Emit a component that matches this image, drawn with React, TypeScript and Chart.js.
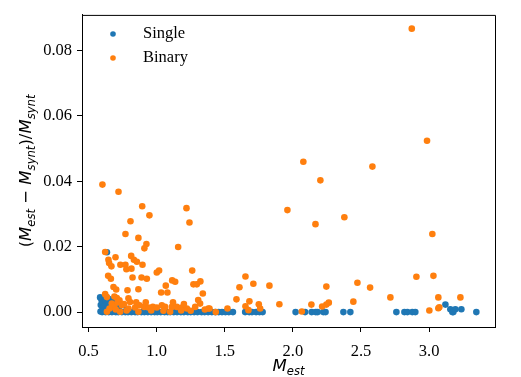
import React, { useEffect, useRef } from "react";
import { Chart, registerables } from "chart.js";

Chart.register(...registerables);

// ---- Data ----
const singleMass = [
  0.585, 0.595, 0.600, 0.590, 0.605, 0.612, 0.588, 0.620, 0.628, 0.635, 0.615, 0.642, 0.650, 0.660, 0.668, 0.655, 0.675, 0.690, 0.635, 0.600, 0.625,
  0.720, 0.780, 0.950, 1.120,
  0.600, 0.625, 0.648, 0.672, 0.700, 0.718, 0.745, 0.770, 0.790, 0.815, 0.842, 0.860, 0.888, 0.910, 0.935, 0.960, 0.985, 1.005, 1.030, 1.058,
  1.080, 1.100, 1.125, 1.150, 1.178, 1.200, 1.228, 1.250, 1.275, 1.300, 1.330, 1.352, 1.378, 1.405, 1.430, 1.455, 1.480, 1.505, 1.530, 1.560,
  1.650, 1.680, 1.700, 1.730, 1.755, 1.778,
  2.020, 2.090, 2.138, 2.168, 2.182, 2.224, 2.240, 2.371, 2.422, 2.760, 2.819, 2.841, 2.877, 2.899,
  3.120, 3.156, 3.171, 3.178, 3.193, 3.237, 3.347,
];
const singleDelta = [
  0.0045, 0.0038, 0.0030, 0.0022, 0.0015, 0.0008, 0.0002, 0.0042, 0.0033, 0.0025, 0.0018, 0.0012, 0.0040, 0.0028, 0.0020, 0.0006, 0.0035, 0.0010, 0.0183, 0.0005, 0.0048,
  0.0012, 0.0008, 0.0006, 0.0009,
  0, 0, 0, 0, 0, 0, 0, 0, 0, 0, 0, 0, 0, 0, 0, 0, 0, 0, 0, 0,
  0, 0, 0, 0, 0, 0, 0, 0, 0, 0, 0, 0, 0, 0, 0, 0, 0, 0, 0, 0,
  0, 0, 0, 0, 0, 0,
  0, 0, 0, 0, 0, 0, 0, 0, 0, 0, 0, 0, 0, 0,
  0.0023, 0.0009, 0, 0, 0.0009, 0.0009, 0,
];

const binaryMass = [
  2.873, 2.985, 2.077, 2.584, 2.202, 1.960, 2.378, 2.166, 3.024, 2.907, 3.032, 2.246, 2.474, 2.567, 2.716, 3.068, 3.230, 2.444, 2.264, 2.246,
  2.215, 2.136, 2.066, 1.901, 3.002, 3.068, 3.075,
  1.321, 1.339, 1.354, 1.388, 1.434, 1.520, 1.652, 1.710, 1.608, 1.828, 1.586, 1.681, 1.652, 1.674, 1.750, 1.760,
  0.602, 0.720, 0.894, 0.947, 0.808, 1.219, 1.241, 0.771, 0.866, 0.925, 0.910, 1.158, 0.622, 0.646, 0.698, 0.813, 0.833, 0.855, 0.896, 0.651,
  0.668, 0.734, 0.771, 0.778, 0.815, 1.001, 1.018, 1.261, 0.644, 0.664, 0.823, 0.889, 0.928, 1.114, 1.136, 0.683, 0.703, 0.786, 0.866, 1.067,
  1.033, 1.079, 1.270, 1.295, 1.305,
  0.622, 0.635, 0.708, 0.727, 0.671, 0.688, 0.654, 0.745, 0.793, 0.805, 0.793, 0.842, 0.874, 0.908, 0.940, 0.972, 1.001, 1.038, 1.062, 1.112,
  1.148, 1.185, 1.222, 1.283, 1.319, 1.380, 0.635, 0.732, 0.866, 1.099,
  0.690, 0.715, 0.760, 0.850, 0.920, 1.120, 1.200, 0.700, 0.780, 0.960, 1.050, 1.180, 1.250,
];
const binaryDelta = [
  0.0867, 0.0524, 0.0460, 0.0445, 0.0403, 0.0312, 0.0290, 0.0269, 0.0239, 0.0108, 0.0111, 0.0078, 0.0090, 0.0075, 0.0045, 0.0045, 0.0045, 0.0032, 0.0029, 0.0023,
  0.0017, 0.0023, 0.0002, 0.0024, 0.0005, 0.0012, 0.0015,
  0.0094, 0.0057, 0.0008, 0.0011, 0.0000, 0.0011, 0.0109, 0.0087, 0.0076, 0.0081, 0.0039, 0.0033, 0.0018, 0.0006, 0.0024, 0.0011,
  0.0390, 0.0368, 0.0324, 0.0296, 0.0278, 0.0318, 0.0274, 0.0239, 0.0227, 0.0208, 0.0195, 0.0199, 0.0184, 0.0160, 0.0168, 0.0172, 0.0160, 0.0154, 0.0145, 0.0150,
  0.0140, 0.0145, 0.0145, 0.0131, 0.0133, 0.0121, 0.0127, 0.0127, 0.0111, 0.0102, 0.0106, 0.0106, 0.0102, 0.0097, 0.0093, 0.0077, 0.0069, 0.0067, 0.0070, 0.0081,
  0.0060, 0.0060, 0.0085, 0.0085, 0.0037,
  0.0055, 0.0046, 0.0043, 0.0036, 0.0026, 0.0016, 0.0011, 0.0021, 0.0042, 0.0031, 0.0011, 0.0014, 0.0021, 0.0016, 0.0014, 0.0016, 0.0014, 0.0021, 0.0016, 0.0016,
  0.0016, 0.0014, 0.0011, 0.0016, 0.0026, 0.0011, 0.0001, 0.0001, 0.0001, 0.0001,
  0.0048, 0.0030, 0.0025, 0.0030, 0.0030, 0.0030, 0.0025, 0.0008, 0.0005, 0.0005, 0.0004, 0.0005, 0.0004,
];

const xTicks = [0.5, 1.0, 1.5, 2.0, 2.5, 3.0];
const yTicks = [0.0, 0.02, 0.04, 0.06, 0.08];
const seriesLabels = ["Single", "Binary"];
const seriesColors = ["#1f77b4", "#ff7f0e"];

const FONT = "'Liberation Serif', 'Times New Roman', serif";
const MATH = "'DejaVu Sans', sans-serif";
const FS = 16.5;
const MFS = 16.5;
const SUB = 11.6;

type Seg = [string, "n" | "i" | "s"];

function segFont(kind: string) {
  if (kind === "i") return `italic ${MFS}px ${MATH}`;
  if (kind === "s") return `italic ${SUB}px ${MATH}`;
  return `${MFS}px ${MATH}`;
}

function drawRich(ctx: CanvasRenderingContext2D, segs: Seg[], cx: number, baseY: number) {
  let total = 0;
  const widths = segs.map(([t, k]) => {
    ctx.font = segFont(k);
    const w = ctx.measureText(t).width;
    total += w;
    return w;
  });
  let x = cx - total / 2;
  ctx.textAlign = "left";
  ctx.textBaseline = "alphabetic";
  ctx.fillStyle = "#000";
  segs.forEach(([t, k], i) => {
    ctx.font = segFont(k);
    ctx.fillText(t, x, k === "s" ? baseY + 3.6 : baseY);
    x += widths[i];
  });
}

const decorPlugin = {
  id: "decor",
  afterDraw(chart: any) {
    const { ctx, chartArea } = chart;
    ctx.save();
    // top and right frame
    ctx.strokeStyle = "#000";
    ctx.lineWidth = 1;
    ctx.beginPath();
    ctx.moveTo(chartArea.left, chartArea.top + 0.5);
    ctx.lineTo(chartArea.right + 0.5, chartArea.top + 0.5);
    ctx.lineTo(chartArea.right + 0.5, chartArea.bottom);
    ctx.stroke();

    // legend
    seriesLabels.forEach((lab, i) => {
      const y = 34 + i * 24;
      ctx.fillStyle = seriesColors[i];
      ctx.beginPath();
      ctx.arc(113, y, 2.8, 0, Math.PI * 2);
      ctx.fill();
      ctx.fillStyle = "#000";
      ctx.font = `${FS}px ${FONT}`;
      ctx.textAlign = "left";
      ctx.textBaseline = "middle";
      ctx.fillText(lab, 143, y);
    });

    // x title
    drawRich(ctx, [["M", "i"], ["est", "s"]], (chartArea.left + chartArea.right) / 2, 371);

    // y title
    ctx.save();
    ctx.translate(31, (chartArea.top + chartArea.bottom) / 2);
    ctx.rotate(-Math.PI / 2);
    drawRich(
      ctx,
      [["(", "n"], ["M", "i"], ["est", "s"], [" − ", "n"], ["M", "i"], ["synt", "s"], [")/", "n"], ["M", "i"], ["synt", "s"]],
      0,
      0
    );
    ctx.restore();
    ctx.restore();
  },
};

export default function App() {
  const ref = useRef<HTMLCanvasElement | null>(null);
  useEffect(() => {
    document.body.style.margin = "0";
    if (!ref.current) return;
    const chart = new Chart(ref.current, {
      type: "scatter",
      data: {
        datasets: [
          {
            label: seriesLabels[0],
            data: singleMass.map((x, i) => ({ x, y: singleDelta[i] })),
            backgroundColor: seriesColors[0],
            borderWidth: 0,
            pointRadius: 3.3,
            order: 1,
          },
          {
            label: seriesLabels[1],
            data: binaryMass.map((x, i) => ({ x, y: binaryDelta[i] })),
            backgroundColor: seriesColors[1],
            borderWidth: 0,
            pointRadius: 3.3,
            order: 0,
          },
        ],
      },
      options: {
        responsive: false,
        animation: false,
        layout: { padding: { left: 0, right: 26, top: 12, bottom: 0 } },
        plugins: { legend: { display: false }, tooltip: { enabled: false } },
        scales: {
          x: {
            type: "linear",
            min: 0.452,
            max: 3.484,
            afterBuildTicks: (s: any) => {
              s.ticks = xTicks.map((v) => ({ value: v }));
            },
            afterFit: (s: any) => {
              s.height = 50;
            },
            grid: { drawOnChartArea: false, drawTicks: true, tickLength: 5, color: "#000", lineWidth: 1 },
            border: { display: true, color: "#000", width: 1 },
            ticks: {
              color: "#000",
              font: { family: FONT, size: FS },
              padding: 10,
              maxRotation: 0,
              autoSkip: false,
              callback: (v: any) => Number(v).toFixed(1),
            },
          },
          y: {
            type: "linear",
            min: -0.00455,
            max: 0.0909,
            afterBuildTicks: (s: any) => {
              s.ticks = yTicks.map((v) => ({ value: v }));
            },
            afterFit: (s: any) => {
              s.width = 82;
            },
            grid: { drawOnChartArea: false, drawTicks: true, tickLength: 5, color: "#000", lineWidth: 1 },
            border: { display: true, color: "#000", width: 1 },
            ticks: {
              color: "#000",
              font: { family: FONT, size: FS },
              padding: 5,
              autoSkip: false,
              callback: (v: any) => Number(v).toFixed(2),
            },
          },
        },
      },
      plugins: [decorPlugin],
    } as any);
    return () => chart.destroy();
  }, []);
  return (
    <div style={{ width: 521, height: 377, background: "#fff" }}>
      <canvas ref={ref} width={521} height={377} />
    </div>
  );
}
